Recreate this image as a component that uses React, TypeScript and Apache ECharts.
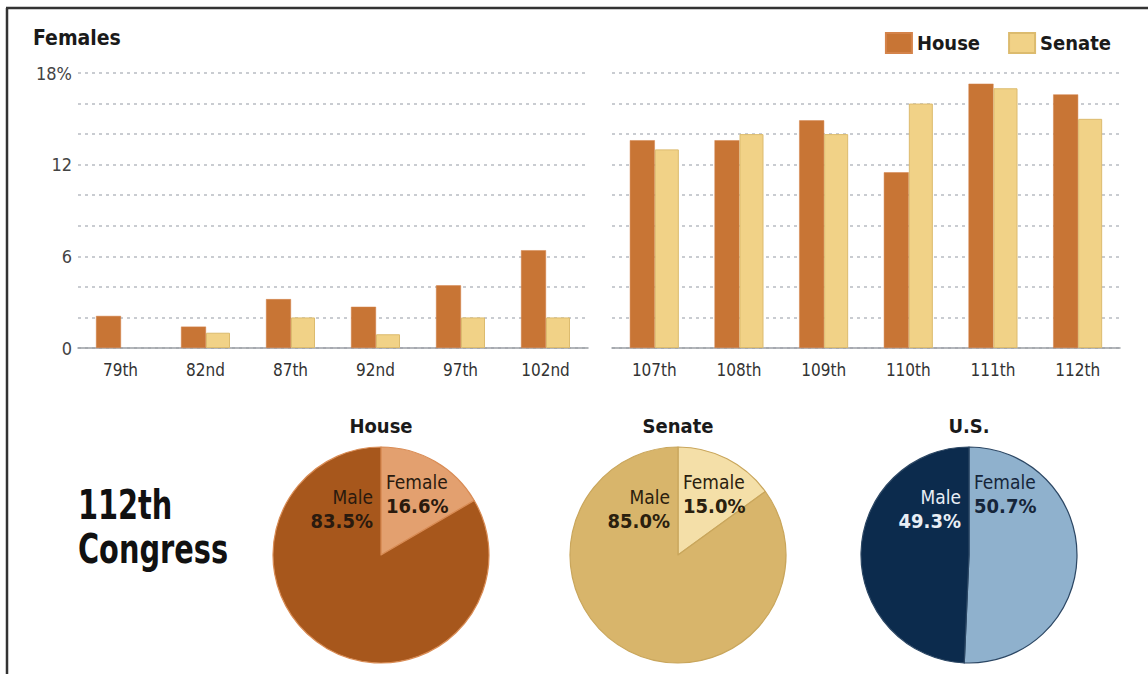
import React, { useEffect, useRef } from "react";
import * as echarts from "echarts";

const earlyCongress = ["79th", "82nd", "87th", "92nd", "97th", "102nd"];
const earlyHouse = [2.1, 1.4, 3.2, 2.7, 4.1, 6.4];
const earlySenate = [0, 1.0, 2.0, 0.9, 2.0, 2.0];

const lateCongress = ["107th", "108th", "109th", "110th", "111th", "112th"];
const lateHouse = [13.6, 13.6, 14.9, 11.5, 17.3, 16.6];
const lateSenate = [13.0, 14.0, 14.0, 16.0, 17.0, 15.0];

const houseShare = [
  { name: "Female", value: 16.6 },
  { name: "Male", value: 83.5 },
];
const senateShare = [
  { name: "Female", value: 15.0 },
  { name: "Male", value: 85.0 },
];
const usShare = [
  { name: "Female", value: 50.7 },
  { name: "Male", value: 49.3 },
];

const FONT = '"Liberation Sans Narrow", "DejaVu Sans Condensed", "Noto Sans", sans-serif';
const HOUSE_C = "#c87535";
const SENATE_C = "#f1d287";

export default function App() {
  const ref = useRef<HTMLDivElement>(null);
  useEffect(() => {
    if (!ref.current) return;
    const chart = echarts.init(ref.current, null, { renderer: "svg" });

    const yLabel = (v: number) => (v === 18 ? "18%" : v % 6 === 0 ? String(v) : "");
    const split = {
      show: true,
      lineStyle: { color: "#b8bcc2", type: [3, 4] as any, width: 1.5 },
    };
    const xAxisCommon = {
      type: "category" as const,
      axisLine: { lineStyle: { color: "#9a9ea4", width: 1.5 } },
      axisTick: { show: false },
      axisLabel: { color: "#333", fontSize: 17, fontFamily: FONT, margin: 13 },
    };
    const yAxisCommon = {
      type: "value" as const,
      min: 0,
      max: 18,
      interval: 2,
      splitLine: split,
      axisLine: { show: false },
      axisTick: { show: false },
    };

    const pieCenters: [number, number][] = [
      [381, 555],
      [678, 555],
      [969, 555],
    ];
    const pieR = 108;
    const pieData = [houseShare, senateShare, usShare];
    const pieColors: Record<string, string>[] = [
      { Female: "#e3a06f", Male: "#a7571c" },
      { Female: "#f4dfa8", Male: "#d8b56b" },
      { Female: "#8fb1cd", Male: "#0c2b4d" },
    ];
    const pieBorders = ["#d98c55", "#c9a65c", "#2c4764"];
    const pieTitles = ["House", "Senate", "U.S."];
    const maleLabelColors = ["#2a1a0e", "#2a200e", "#e8eef5"];
    const femaleLabelColors = ["#2a1a0e", "#2a200e", "#15253a"];

    const graphics: any[] = [
      { type: "line", shape: { x1: 6, y1: 8, x2: 1148, y2: 8 }, style: { stroke: "#333", lineWidth: 2.5 } },
      { type: "line", shape: { x1: 7, y1: 8, x2: 7, y2: 674 }, style: { stroke: "#333", lineWidth: 2.5 } },
      {
        type: "text", x: 33, y: 27,
        style: { text: "Females", font: `bold 21px ${FONT}`, fill: "#1a1a1a" },
      },
      {
        type: "text", x: 78, y: 483, scaleX: 0.8,
        style: { text: "112th\nCongress", font: `bold 40px ${FONT}`, fill: "#111", lineHeight: 44 },
      },
    ];
    pieCenters.forEach(([cx], i) => {
      const female = pieData[i].find((d) => d.name === "Female")!;
      const male = pieData[i].find((d) => d.name === "Male")!;
      graphics.push({
        type: "text", x: cx, y: 416,
        style: { text: pieTitles[i], font: `bold 20px ${FONT}`, fill: "#1a1a1a", textAlign: "center" },
      });
      graphics.push({
        type: "text", x: cx - 8, y: 485, z: 100,
        style: {
          text: `{a|Male}\n{b|${male.value.toFixed(1)}%}`,
          textAlign: "right",
          fill: maleLabelColors[i],
          rich: {
            a: { font: `19px ${FONT}`, fill: maleLabelColors[i], lineHeight: 24 },
            b: { font: `bold 20px ${FONT}`, fill: maleLabelColors[i], lineHeight: 24 },
          },
        },
      });
      graphics.push({
        type: "text", x: cx + 5, y: 470, z: 100,
        style: {
          text: `{a|Female}\n{b|${female.value.toFixed(1)}%}`,
          textAlign: "left",
          fill: femaleLabelColors[i],
          rich: {
            a: { font: `19px ${FONT}`, fill: femaleLabelColors[i], lineHeight: 24 },
            b: { font: `bold 20px ${FONT}`, fill: femaleLabelColors[i], lineHeight: 24 },
          },
        },
      });
    });

    const option: any = {
      animation: false,
      backgroundColor: "#ffffff",
      textStyle: { fontFamily: FONT },
      legend: {
        right: 32,
        top: 27,
        itemWidth: 26,
        itemHeight: 20,
        itemGap: 28,
        icon: "rect",
        textStyle: { fontSize: 20, fontWeight: "bold", color: "#1a1a1a", fontFamily: FONT },
        data: ["House", "Senate"],
      },
      grid: [
        { left: 78, right: 1148 - 588, top: 73, bottom: 674 - 348 },
        { left: 612, right: 1148 - 1120, top: 73, bottom: 674 - 348 },
      ],
      xAxis: [
        { ...xAxisCommon, gridIndex: 0, data: earlyCongress },
        { ...xAxisCommon, gridIndex: 1, data: lateCongress },
      ],
      yAxis: [
        {
          ...yAxisCommon,
          gridIndex: 0,
          axisLabel: { formatter: yLabel, color: "#444", fontSize: 18, fontFamily: FONT, margin: 6 },
        },
        { ...yAxisCommon, gridIndex: 1, axisLabel: { show: false } },
      ],
      series: [
        {
          name: "House", type: "bar", xAxisIndex: 0, yAxisIndex: 0, data: earlyHouse,
          barWidth: 25, barGap: "0%", itemStyle: { color: HOUSE_C, borderColor: "#d4834a", borderWidth: 0.5 },
        },
        {
          name: "Senate", type: "bar", xAxisIndex: 0, yAxisIndex: 0,
          data: earlySenate.map((v) => (v === 0 ? { value: 0, itemStyle: { borderWidth: 0 } } : v)),
          barWidth: 24, barGap: "0%", itemStyle: { color: SENATE_C, borderColor: "#dcbb6e", borderWidth: 1 },
        },
        {
          name: "House", type: "bar", xAxisIndex: 1, yAxisIndex: 1, data: lateHouse,
          barWidth: 25, barGap: "0%", itemStyle: { color: HOUSE_C, borderColor: "#d4834a", borderWidth: 0.5 },
        },
        {
          name: "Senate", type: "bar", xAxisIndex: 1, yAxisIndex: 1, data: lateSenate,
          barWidth: 24, barGap: "0%", itemStyle: { color: SENATE_C, borderColor: "#dcbb6e", borderWidth: 1 },
        },
        ...pieCenters.map((c, i) => ({
          type: "pie",
          center: c,
          radius: pieR,
          startAngle: 90,
          clockwise: true,
          silent: true,
          label: { show: false },
          labelLine: { show: false },
          itemStyle: { borderColor: pieBorders[i], borderWidth: 1.2 },
          data: pieData[i].map((d) => ({ ...d, itemStyle: { color: pieColors[i][d.name] } })),
        })),
      ],
      graphic: graphics,
    };
    chart.setOption(option);
    return () => chart.dispose();
  }, []);

  return (
    <div
      ref={ref}
      style={{ position: "fixed", left: 0, top: 0, width: 1148, height: 674, background: "#fff" }}
    />
  );
}
